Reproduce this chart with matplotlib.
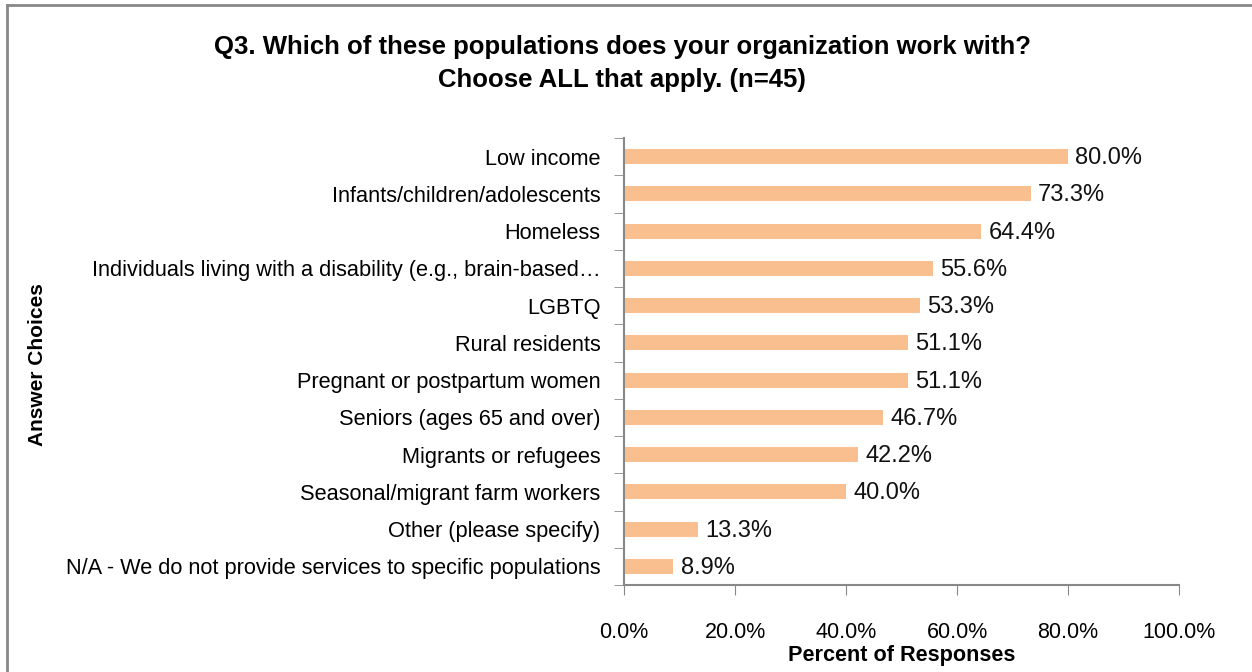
import matplotlib
matplotlib.use("Agg")
import matplotlib.pyplot as plt
from matplotlib.lines import Line2D
from matplotlib import font_manager

categories = [
    "Low income",
    "Infants/children/adolescents",
    "Homeless",
    "Individuals living with a disability (e.g., brain-based\u2026",
    "LGBTQ",
    "Rural residents",
    "Pregnant or postpartum women",
    "Seniors (ages 65 and over)",
    "Migrants or refugees",
    "Seasonal/migrant farm workers",
    "Other (please specify)",
    "N/A - We do not provide services to specific populations",
]
values = [80.0, 73.3, 64.4, 55.6, 53.3, 51.1, 51.1, 46.7, 42.2, 40.0, 13.3, 8.9]
xticks = [0, 20, 40, 60, 80, 100]

names = {f.name for f in font_manager.fontManager.ttflist}
fam = "Liberation Sans Narrow" if "Liberation Sans Narrow" in names else "Liberation Sans"
plt.rcParams['font.family'] = [fam, 'DejaVu Sans']

fig = plt.figure(figsize=(12.52, 6.72), dpi=100)
ax = fig.add_axes([624/1252, 1-585/672, (1179-624)/1252, (585-138)/672])

n = len(categories)
ypos = list(range(n))
ax.barh(ypos, values, height=0.4, color="#F9BF8F")
ax.set_ylim(n - 0.5, -0.5)
ax.set_xlim(0, 100)

for y, v in zip(ypos, values):
    ax.text(v + 1.3, y + 0.04, f"{v:.1f}%", va="center", ha="left", fontsize=17, color="#111111")

ax.set_yticks(ypos)
ax.set_yticklabels(categories, fontsize=15.7)
ax.set_yticks([i - 0.5 for i in range(n + 1)], minor=True)
ax.tick_params(axis="y", which="major", length=0, pad=17)
ax.tick_params(axis="y", which="minor", length=7, color="#888888", direction="out")
ax.set_xticks(xticks)
ax.set_xticklabels([f"{t:.1f}%" for t in xticks], fontsize=15.5)
ax.tick_params(axis="x", length=7, color="#888888", pad=20)

for s in ["top", "right"]:
    ax.spines[s].set_visible(False)
for s in ["left", "bottom"]:
    ax.spines[s].set_color("#888888")
    ax.spines[s].set_linewidth(1.5)

fig.text(902/1252, 1-656/672, "Percent of Responses", ha="center", va="center",
         fontsize=15.6, fontweight="bold", family=["Liberation Sans", "DejaVu Sans"])
fig.text(38/1252, 1-365/672, "Answer Choices", rotation=90, va="center", ha="center",
         fontsize=15, fontweight="bold", family=["Liberation Sans", "DejaVu Sans"])

fig.text(622/1252, 1-63.5/672,
         "Q3. Which of these populations does your organization work with?\nChoose ALL that apply. (n=45)",
         ha="center", va="center", fontsize=18.5, fontweight="bold", linespacing=1.45,
         family=["Liberation Sans", "DejaVu Sans"])

fig.add_artist(Line2D([7/1252, 7/1252], [0, 1-4.5/672], transform=fig.transFigure,
                      color="#888888", linewidth=2))
fig.add_artist(Line2D([7/1252, 1], [1-4.5/672, 1-4.5/672], transform=fig.transFigure,
                      color="#888888", linewidth=2))

fig.savefig("out.png", dpi=100)
